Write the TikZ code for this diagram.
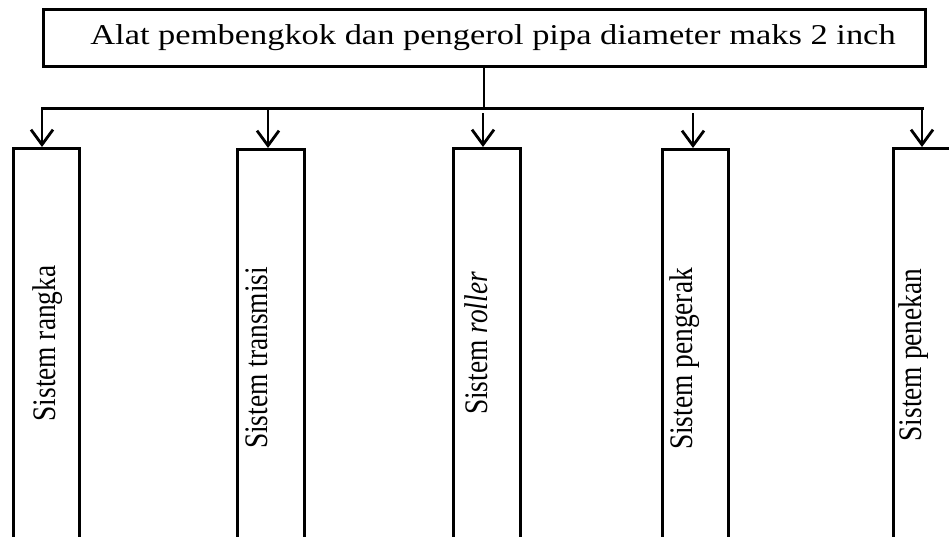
\documentclass[tikz,border=0pt]{standalone}
\usepackage{fontspec}
\setmainfont{Liberation Serif}
\usetikzlibrary{arrows.meta}
\tikzset{
  boxline/.style={draw=black, line width=3pt, inner sep=0pt},
  conn/.style={draw=black, line width=2.8pt},
  arr/.style={conn, -{Straight Barb[length=15pt,width=22pt]}},
  vlabel/.style={inner sep=0pt}
}
\newcommand{\vtext}[1]{\rotatebox{90}{\scalebox{1}[1.2]{\fontsize{27.4}{30}\selectfont #1}}}
\begin{document}
\begin{tikzpicture}[x=1pt,y=-1pt]
\clip (0,0) rectangle (949,536);
\fill[white] (0,0) rectangle (949,536);
% title
\node[boxline, minimum width=882pt, minimum height=57pt] (title) at (484,37.7)
  {\hspace*{18pt}\scalebox{1.2}[1]{\fontsize{28.7}{30}\selectfont Alat pembengkok dan pengerol pipa diameter maks 2 inch}};
% boxes
\node[boxline, minimum width=66pt, minimum height=420pt, anchor=north west] (r1) at (12,147) {};
\node[boxline, minimum width=67pt, minimum height=420pt, anchor=north west] (r2) at (236,148) {};
\node[boxline, minimum width=67pt, minimum height=420pt, anchor=north west] (r3) at (452,147) {};
\node[boxline, minimum width=66pt, minimum height=420pt, anchor=north west] (r4) at (661,148) {};
\node[boxline, minimum width=66pt, minimum height=420pt, anchor=north west] (r5) at (892,147) {};
% labels
\node[vlabel] (t1) at (47.5,343.5) {\vtext{Sistem rangka}};
\node[vlabel] (t2) at (257,358) {\vtext{Sistem transmisi}};
\node[vlabel] (t3) at (476.5,343.5) {\vtext{Sistem \textit{roller}}};
\node[vlabel] (t4) at (685,359) {\vtext{Sistem pengerak}};
\node[vlabel] (t5) at (914,355) {\vtext{Sistem penekan}};
% bus
\coordinate (bl) at (42,108.5);
\coordinate (br) at (923,108.5);
\coordinate (bm) at (title.south |- bl);
\draw[conn] (title.south) -- (bm);
\draw[conn, line cap=rect] (bl) -- (br);
\coordinate (a1) at (42,108.5);
\coordinate (a2) at (268,108.5);
\coordinate (a3) at (483,113);
\coordinate (a4) at (693,113);
\coordinate (a5) at (922,108.5);
\draw[arr] (a1) -- (a1 |- r1.north);
\draw[arr] (a2) -- (a2 |- r2.north);
\draw[arr] (a3) -- (a3 |- r3.north);
\draw[arr] (a4) -- (a4 |- r4.north);
\draw[arr] (a5) -- (a5 |- r5.north);
\end{tikzpicture}
\end{document}
